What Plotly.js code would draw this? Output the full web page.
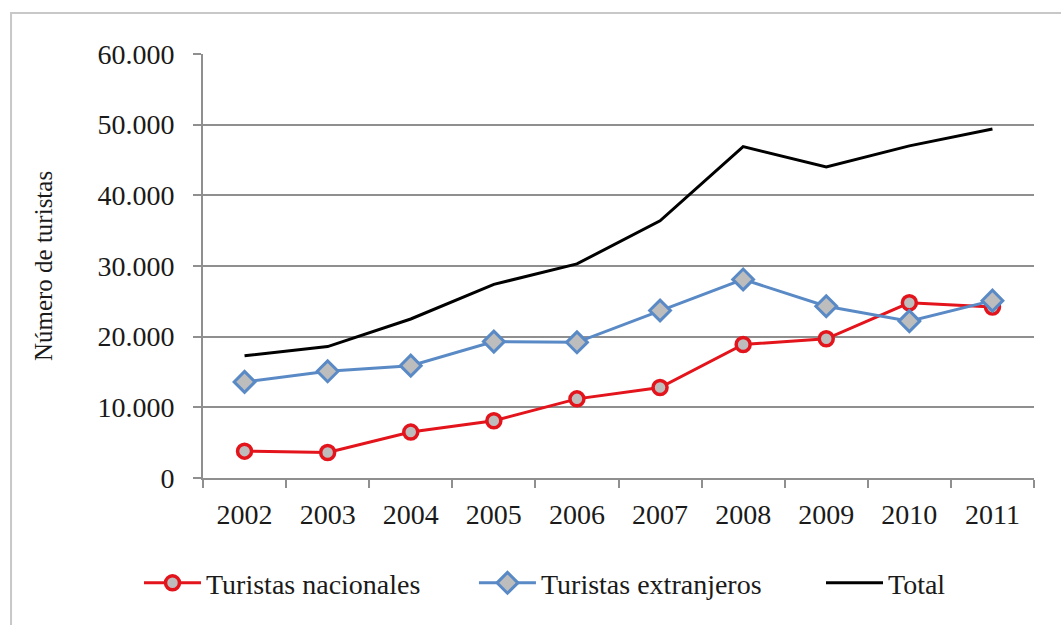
<!DOCTYPE html>
<html>
<head>
<meta charset="utf-8">
<script src="https://cdn.plot.ly/plotly-3.0.1.min.js"></script>
<style>
  html, body { margin: 0; padding: 0; background: #ffffff; }
  #chart { width: 1061px; height: 625px; }
</style>
</head>
<body>
<div id="chart"></div>
<script>
// Tourists per year, 2002-2011
const years = ['2002', '2003', '2004', '2005', '2006', '2007', '2008', '2009', '2010', '2011'];
const nacionales  = [3800, 3600, 6500, 8100, 11200, 12800, 18900, 19700, 24800, 24200];
const extranjeros = [13600, 15100, 15900, 19300, 19200, 23700, 28100, 24300, 22200, 25100];
const total       = [17300, 18600, 22500, 27400, 30300, 36400, 46900, 44000, 47000, 49400];
const yTicks = [0, 10000, 20000, 30000, 40000, 50000, 60000];

const serif = 'Liberation Serif';
const textColor = '#1a1a1a';
const gridGray = '#8f8f8f';

const traces = [
  {
    name: 'Turistas nacionales',
    legend: 'legend',
    x: years, y: nacionales,
    type: 'scatter', mode: 'lines+markers',
    line: { color: '#e3141b', width: 3 },
    marker: { symbol: 'circle', size: 14, color: '#bdbdbd', line: { color: '#e3141b', width: 3.5 } }
  },
  {
    name: 'Turistas extranjeros',
    legend: 'legend2',
    x: years, y: extranjeros,
    type: 'scatter', mode: 'lines+markers',
    line: { color: '#5a8ac6', width: 3 },
    marker: { symbol: 'diamond', size: 16, color: '#bdbdbd', line: { color: '#5a8ac6', width: 3 } }
  },
  {
    name: 'Total',
    legend: 'legend3',
    x: years, y: total,
    type: 'scatter', mode: 'lines',
    line: { color: '#000000', width: 3 }
  }
];

// one legend box per series, laid out in a single row under the axis
function legendAt(xPos) {
  return {
    orientation: 'h',
    xref: 'container', yref: 'container',
    x: xPos, xanchor: 'left',
    y: 0.067, yanchor: 'middle',
    font: { family: serif, size: 28, color: textColor },
    itemwidth: 57,
    bgcolor: 'rgba(0,0,0,0)'
  };
}

const layout = {
  width: 1061, height: 625,
  margin: { l: 203, r: 27, t: 54, b: 147 },
  paper_bgcolor: '#ffffff', plot_bgcolor: '#ffffff',
  separators: ',.',
  font: { family: serif, size: 28, color: textColor },
  showlegend: true,
  legend: legendAt(0.131),
  legend2: legendAt(0.4467),
  legend3: legendAt(0.7738),
  xaxis: {
    type: 'category',
    range: [-0.5, 9.5],
    showgrid: false,
    showline: true, linecolor: gridGray, linewidth: 2,
    ticks: 'outside', tickson: 'boundaries', ticklen: 8, tickwidth: 2, tickcolor: gridGray,
    ticklabelstandoff: 10,
    tickfont: { family: serif, size: 28, color: textColor },
    zeroline: false, fixedrange: true
  },
  yaxis: {
    range: [0, 60000],
    tickvals: yTicks,
    tickformat: ',d',
    showgrid: true, gridcolor: gridGray, gridwidth: 2,
    showline: true, linecolor: gridGray, linewidth: 2,
    ticks: 'outside', ticklen: 8, tickwidth: 2, tickcolor: gridGray,
    ticklabelstandoff: 13,
    tickfont: { family: serif, size: 28, color: textColor },
    zeroline: false, fixedrange: true,
    automargin: true,
    title: { text: 'Número de turistas', standoff: 38, font: { family: serif, size: 25, color: textColor } }
  },
  shapes: [
    {
      type: 'rect', xref: 'paper', yref: 'paper',
      x0: -0.231, x1: 1.2, y0: -0.5, y1: 1.0967,
      line: { color: '#c8c8c8', width: 2 }, fillcolor: 'rgba(0,0,0,0)', layer: 'below'
    }
  ]
};

Plotly.newPlot('chart', traces, layout, { staticPlot: true, displayModeBar: false });
</script>
</body>
</html>
